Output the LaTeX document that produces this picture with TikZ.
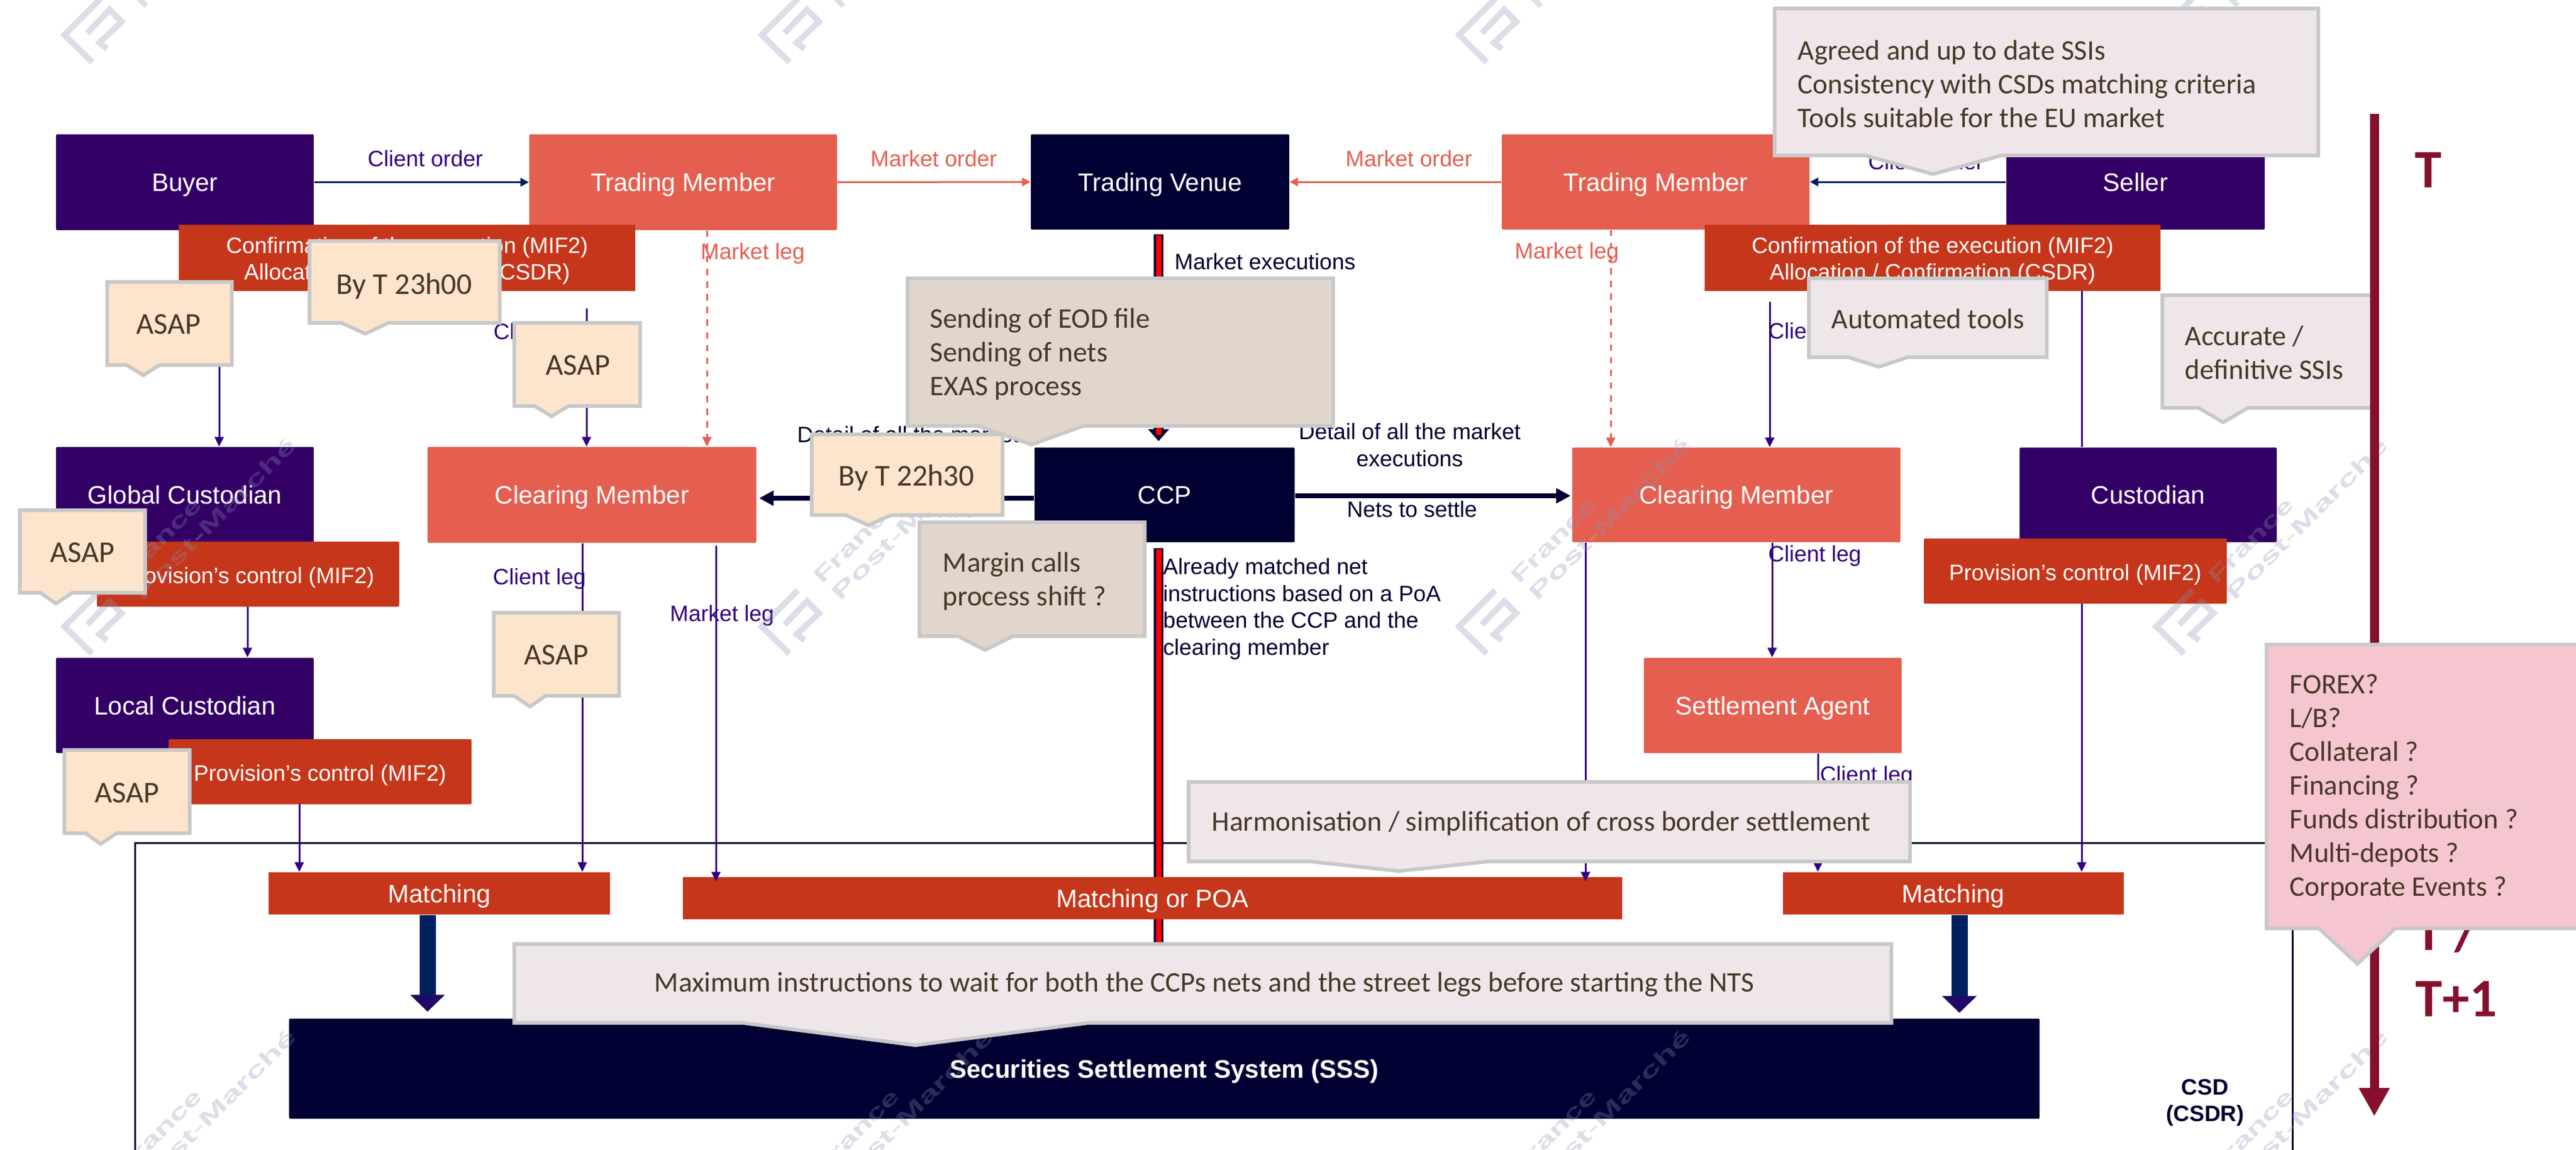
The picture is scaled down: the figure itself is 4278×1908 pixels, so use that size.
\documentclass[tikz,border=0pt]{standalone}
\usepackage{graphicx}
\usepackage{fontspec}
\setmainfont{Liberation Sans}
\newfontfamily\calib{Carlito}
\usetikzlibrary{arrows.meta,calc}
\definecolor{purp}{HTML}{330066}
\definecolor{coral}{HTML}{E55F50}
\definecolor{deep}{HTML}{000033}
\definecolor{rust}{HTML}{C6361A}
\definecolor{linep}{HTML}{330080}
\definecolor{linen}{HTML}{002060}
\definecolor{headp}{HTML}{200A66}
\definecolor{barred}{HTML}{FF0000}
\definecolor{wine}{HTML}{85102C}
\definecolor{peach}{HTML}{FDE4CC}
\definecolor{taupe}{HTML}{E2D6CC}
\definecolor{mist}{HTML}{EEE6E8}
\definecolor{rose}{HTML}{F6C6D0}
\definecolor{callb}{HTML}{C8C8C8}
\definecolor{calltext}{HTML}{473727}
\definecolor{wmark}{HTML}{8A93B8}
\definecolor{wmgreen}{HTML}{B5C080}
\newcommand{\fA}{\fontsize{10.53pt}{12.5pt}\selectfont}
\newcommand{\fB}{\fontsize{11.95pt}{14pt}\selectfont}
\newcommand{\fC}{\calib\fontsize{14.3pt}{17pt}\selectfont}
\newcommand{\fD}{\calib\fontsize{13.4pt}{15.95pt}\selectfont}
\newcommand{\st}{\rule[-.09cm]{0pt}{.48cm}}
\newcommand{\bx}[7]{\node[boxbase,#6,minimum width={(#4-#2)*0.01cm},minimum height={(#5-#3)*0.01cm}] (#1) at ({(#2+#4)/2},{(#3+#5)/2}) {#7};}
\newcommand{\callout}[9]{\draw[callbd,fill=#9] (#1,#2)--(#3,#2)--(#3,#4)--(#8,#4)--(#6,#7)--(#5,#4)--(#1,#4)--cycle;}
\tikzset{
 boxbase/.style={inner sep=0pt,rounded corners=.02cm,text=white,font=\fB,align=center},
 purpbox/.style={fill=purp},
 coralbox/.style={fill=coral},
 deepbox/.style={fill=deep},
 rustbox/.style={fill=rust,font=\fA},
 rustbig/.style={fill=rust,rounded corners=0pt},
 callbd/.style={draw=callb,line width=.06cm,miter limit=10},
 labelp/.style={font=\fA,text=linep,inner sep=0pt,anchor=west},
 labelr/.style={font=\fA,text=coral,inner sep=0pt,anchor=west},
 labeln/.style={font=\fA,text=deep,inner sep=0pt},
 calltx/.style={inner sep=0pt,text=calltext,anchor=west,align=left},
 thinarr/.style={draw=linep,line width=.03cm,-{Triangle[length=.16cm,width=.15cm]}},
 plainp/.style={draw=linep,line width=.03cm},
 navyline/.style={draw=linen,line width=.03cm,-{Triangle[length=.14cm,width=.14cm]}},
 redline/.style={draw=coral,line width=.03cm,-{Triangle[length=.14cm,width=.14cm]}},
 reddash/.style={draw=coral,line width=.03cm,dashed,-{Triangle[length=.16cm,width=.15cm]}},
 thicknav/.style={draw=deep,line width=.085cm,-{Triangle[length=.24cm,width=.24cm]}},
 blockarr/.style={draw=linen,line width=.27cm,-{Triangle[length=.28cm,width=.56cm,color=headp]}},
 barout/.style={draw=deep,line width=.16cm},
 barin/.style={draw=barred,line width=.09cm},
 wm/.style={draw=wmark,line width=.1cm,opacity=.3},
 wmt/.style={text=wmark,font=\bfseries\fontsize{10pt}{12pt}\selectfont,inner sep=0pt,anchor=base west,rotate=45,opacity=.3},
}
\begin{document}
\begin{tikzpicture}[x=0.01cm,y=-0.01cm]
\useasboundingbox (0,0) rectangle (4278,1908);
\clip (0,0) rectangle (4278,1908);
\fill[white] (0,0) rectangle (4278,1908);
\foreach \v in {364,411,497,710,967,974,1174,1189,1924,2633,2675,2939,2943,3019,3254,3457}{\coordinate (x\v) at (\v,0);}
\coordinate (frameTL) at (224,1399);
\coordinate (frameTR) at (3807,1399);
\coordinate (frameBL) at (224,1960);
\coordinate (frameBR) at (3807,1960);
\coordinate (startL) at (974,512);
\coordinate (startR) at (2939,501);
\coordinate (ttop) at (3943,189);
\coordinate (tbot) at (3943,1853);
\coordinate (leftarrowy) at (0,827);
\coordinate (rightarrowy) at (0,823);
% frame
\draw[draw=deep,line width=.03cm] (frameBL) -- (frameTL) -- (frameTR) -- (frameBR);
% boxes created first for names, painted in order
\bx{matchl}{446}{1448}{1013}{1518}{rustbig}{\st Matching}
\bx{matchr}{2961}{1448}{3527}{1518}{rustbig}{\st Matching}
\bx{sss}{480}{1691}{3387}{1857}{deepbox,font=\bfseries\fB}{\st Securities Settlement System (SSS)}
\bx{buyer}{93}{223}{521}{382}{purpbox}{\st Buyer}
\bx{seller}{3332}{223}{3761}{381}{purpbox}{\st Seller}
\bx{tml}{879}{223}{1390}{382}{coralbox}{\st Trading Member}
\bx{tmr}{2494}{223}{3005}{381}{coralbox}{\st Trading Member}
\bx{tv}{1712}{223}{2141}{381}{deepbox}{\st Trading Venue}
\bx{ccp}{1718}{743}{2150}{900}{deepbox}{\st CCP}
\bx{cml}{710}{742}{1256}{901}{coralbox}{\st Clearing Member}
\bx{cmr}{2611}{743}{3156}{900}{coralbox}{\st Clearing Member}
\bx{gc}{93}{742}{521}{900}{purpbox}{\st Global Custodian}
\bx{lc}{93}{1092}{521}{1250}{purpbox}{\st Local Custodian}
\bx{cust}{3354}{743}{3781}{900}{purpbox}{\st Custodian}
\bx{sa}{2730}{1092}{3158}{1250}{coralbox}{\st Settlement Agent}
% connectors
\draw[navyline] (buyer.east) -- (tml.west);
\draw[navyline] (seller.west) -- (tmr.east);
\draw[redline] (tml.east) -- (tv.west);
\draw[redline] (tmr.west) -- (tv.east);
\draw[reddash] (tml.south -| x1174) -- (cml.north -| x1174);
\draw[reddash] (tmr.south -| x2675) -- (cmr.north -| x2675);
\draw[thinarr] (buyer.south -| x364) -- (gc.north -| x364);
\draw[thinarr] (startL) -- (cml.north -| x974);
\draw[thinarr] (startR) -- (cmr.north -| x2939);
\draw[plainp] (tmr.south -| x3457) -- (cust.north -| x3457);
\draw[thinarr] (gc.south -| x411) -- (lc.north -| x411);
\draw[thinarr] (lc.south -| x497) -- (matchl.north -| x497);
\draw[thinarr] (cml.south -| x967) -- (matchl.north -| x967);
\draw[thinarr] (cust.south -| x3457) -- (matchr.north -| x3457);
\draw[thinarr] (cmr.south -| x2943) -- (sa.north -| x2943);
\draw[thinarr] (sa.south -| x3019) -- (matchr.north -| x3019);
\draw[thicknav,shorten >=.04cm] (ccp.west |- leftarrowy) -- (cml.east |- leftarrowy);
\draw[thicknav,shorten >=.02cm] (ccp.east |- rightarrowy) -- (cmr.west |- rightarrowy);
\draw[blockarr,shorten >=.11cm] (matchl.south -| x710) -- (sss.north -| x710);
\draw[blockarr,shorten >=.09cm] (matchr.south -| x3254) -- (sss.north -| x3254);
% bars
\draw[barout,-{Triangle[length=.2cm,width=.34cm]},shorten <=.07cm,shorten >=.1cm] (tv.south -| x1924) -- (ccp.north -| x1924);
\draw[barin,shorten <=.09cm,shorten >=.2cm] (tv.south -| x1924) -- (ccp.north -| x1924);
\draw[barout,shorten <=.09cm] (ccp.south -| x1924) -- (sss.north -| x1924);
\draw[barin,shorten <=.11cm] (ccp.south -| x1924) -- (sss.north -| x1924);
% boxes above the lines
\bx{poa}{1134}{1456}{2694}{1526}{rustbig}{\st Matching or POA}
\draw[thinarr] (cml.south -| x1189) ++(0,4) -- ($(poa.north -| x1189)+(0,8)$);
\draw[thinarr] (cmr.south -| x2633) -- ($(poa.north -| x2633)+(0,8)$);
\bx{confl}{297}{373}{1055}{483}{rustbig,font=\fA}{\rule{0pt}{.36cm}Confirmation of the execution (MIF2)\\Allocation / Confirmation (CSDR)}
\bx{confr}{2831}{373}{3588}{483}{rustbig,font=\fA}{\rule{0pt}{.36cm}Confirmation of the execution (MIF2)\\Allocation / Confirmation (CSDR)}
\bx{provg}{161}{899}{663}{1007}{rustbox}{\st Provision’s control (MIF2)}
\bx{provl}{280}{1227}{783}{1335}{rustbox}{\st Provision’s control (MIF2)}
\bx{provc}{3195}{894}{3698}{1002}{rustbox}{\st Provision’s control (MIF2)}
% labels
\node[labelp] (lbco) at (610,263) {Client order};
\node[labelp] (lbcor) at (3102,268) {Client order};
\node[labelr] (lbmol) at (1445,263) {Market order};
\node[labelr] (lbmor) at (2234,263) {Market order};
\node[labelr] (lbmll) at (1163,421) {Market leg};
\node[labelr] (lbmlr) at (2515,420) {Market leg};
\node[labeln,anchor=west] (lbme) at (1950,434) {Market executions};
\node[labelp] (lbcl1) at (819,554) {Client leg};
\node[labelp] (lbcl2) at (2936,553) {Client leg};
\node[labelp] (lbcl3) at (818,961) {Client leg};
\node[labelp] (lbcl4) at (2936,923) {Client leg};
\node[labelp] (lbcl5) at (3022,1289) {Client leg};
\node[labelp] (lbml3) at (1112,1022) {Market leg};
\node[labeln,align=center,font=\fontsize{10.53pt}{12.8pt}\selectfont] (lbdl) at (1508,744) {Detail of all the market\\executions};
\node[labeln,align=center,font=\fontsize{10.53pt}{12.8pt}\selectfont] (lbdr) at (2341,739) {Detail of all the market\\executions};
\node[labeln] (lbnl) at (1512,845) {Nets to settle};
\node[labeln] (lbnr) at (2345,845) {Nets to settle};
\node[labeln,anchor=north west,align=left,font=\fontsize{10.53pt}{12.65pt}\selectfont] (lbam) at (1931,926) {Already matched net\\instructions based on a PoA\\between the CCP and the\\clearing member};
\node[font=\bfseries\fA,text=deep,inner sep=0pt,align=center] (lbcsd) at (3662,1830) {CSD\\(CSDR)};
% watermark
\foreach \cx in {107,1265,2423,3581}{\foreach \cy in {58,1040,2022}{
\begin{scope}[shift={(\cx,\cy)}]
\draw[wm] (60,-60) -- (0,0) -- (46,45);
\draw[wm] (38,-3) -- (75,-42) -- (95,-22) -- (58,13) -- (71,23);
\node[wmt] (wa\cx\cy) at (100,-69) {\scalebox{1.6}[1]{France}};
\node[wmt] (wb\cx\cy) at (130,-41) {\scalebox{1.72}[1]{Post{\color{wmgreen}-}Marché}};
\end{scope}}}
% side text
\node[text=wine,font=\calib\bfseries\fontsize{25.6pt}{30pt}\selectfont,inner sep=0pt] (tt) at (4033,282) {T};
\node[text=wine,font=\calib\bfseries\fontsize{25.6pt}{30pt}\selectfont,inner sep=0pt,anchor=west] (tslash) at (4011,1548) {T /};
\node[text=wine,font=\calib\bfseries\fontsize{25.6pt}{30pt}\selectfont,inner sep=0pt,anchor=west] (tplus) at (4011,1658) {T+1};
% callouts
\callout{178}{468}{385}{606}{210}{238}{623}{265}{peach}
\node[calltx,font=\fC] (c1) at (226,538) {ASAP};
\callout{514}{400}{830}{536}{567}{607}{554}{645}{peach}
\node[calltx,font=\fC] (c2) at (558,475) {By T 23h00};
\callout{854}{536}{1063}{674}{888}{916}{691}{944}{peach}
\node[calltx,font=\fC] (c3) at (906,606) {ASAP};
\callout{33}{847}{241}{984}{67}{93}{1002}{120}{peach}
\node[calltx,font=\fC] (c4) at (83,917) {ASAP};
\callout{820}{1017}{1028}{1155}{854}{880}{1173}{906}{peach}
\node[calltx,font=\fC] (c5) at (870,1087) {ASAP};
\callout{107}{1245}{315}{1383}{142}{167}{1401}{194}{peach}
\node[calltx,font=\fC] (c6) at (157,1316) {ASAP};
\callout{1348}{721}{1665}{855}{1405}{1442}{872}{1480}{peach}
\node[calltx,font=\fC] (c7) at (1392,793) {By T 22h30};
\callout{1507}{462}{2214}{707}{1625}{1713}{738}{1799}{taupe}
\node[calltx,font=\fD] (c8) at (1544,588) {Sending of EOD file\\Sending of nets\\EXAS process};
\callout{1527}{867}{1901}{1056}{1591}{1636}{1079}{1682}{taupe}
\node[calltx,font=\fD] (c9) at (1565,965) {Margin calls\\process shift ?};
\callout{2947}{14}{3850}{258}{3097}{3210}{289}{3324}{mist}
\node[calltx,font=\fD] (c10) at (2985,139) {Agreed and up to date SSIs\\Consistency with CSDs matching criteria\\Tools suitable for the EU market};
\callout{3004}{462}{3399}{593}{3070}{3120}{609}{3168}{mist}
\node[calltx,font=\fD] (c11) at (3041,529) {Automated tools};
\callout{3591}{490}{3940}{677}{3651}{3692}{701}{3733}{mist}
\node[calltx,font=\fD] (c12) at (3628,585) {Accurate /\\definitive SSIs};
\draw[draw=wine,line width=.15cm,-{Triangle[length=.47cm,width=.48cm]}] (ttop) -- (tbot);
\callout{1974}{1298}{3172}{1430}{2175}{2323}{1446}{2472}{mist}
\node[calltx,font=\fD] (c13) at (2012,1367) {Harmonisation / simplification of cross border settlement};
\callout{854}{1567}{3141}{1698}{1234}{1520}{1735}{1807}{mist}
\node[calltx,font=\fD] (c14) at (1086,1634) {Maximum instructions to wait for both the CCPs nets and the street legs before starting the NTS};
\callout{3764}{1070}{4300}{1541}{3851}{3915}{1600}{3978}{rose}
\node[calltx,font=\fD] (c15) at (3802,1307) {FOREX?\\L/B?\\Collateral ?\\Financing ?\\Funds distribution ?\\Multi-depots ?\\Corporate Events ?};
\end{tikzpicture}
\end{document}
